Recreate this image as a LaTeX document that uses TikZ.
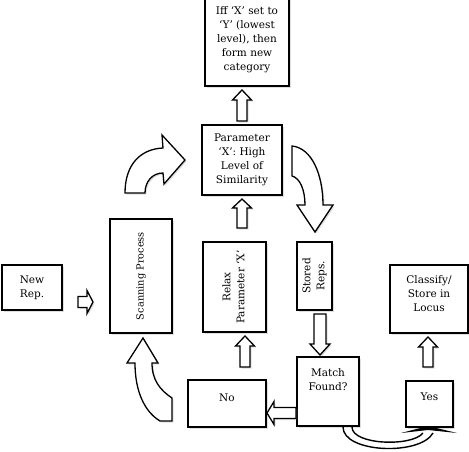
\documentclass[tikz,border=0pt]{standalone}
\usepackage{graphicx}
\usepackage{fontspec}
\setmainfont{DejaVu Serif}
\usetikzlibrary{calc,shadows}
\tikzset{
  box/.style={draw, line width=2pt, fill=white, inner sep=2pt, align=center,
    font=\fontsize{10.5}{14}\selectfont,
    drop shadow={opacity=0.25, shadow xshift=1.5pt, shadow yshift=-1.5pt}},
  txt/.style={align=center, inner sep=0pt, font=\fontsize{10.5}{14}\selectfont},
  blk/.style={draw, line width=1.3pt, fill=white, line join=miter,
    drop shadow={opacity=0.25, shadow xshift=1.5pt, shadow yshift=-1.5pt}},
}
\newcommand{\barrow}[5]{%
  \path #1 coordinate (bS) #2 coordinate (bE);
  \path ($(bE)!#5!(bS)$) coordinate (bH);
  \draw[blk] ($(bS)!#3!90:(bE)$) -- ($(bH)!#3!-90:(bS)$) -- ($(bH)!#4!-90:(bS)$) -- (bE)
    -- ($(bH)!#4!90:(bS)$) -- ($(bH)!#3!90:(bS)$) -- ($(bS)!#3!-90:(bE)$) -- cycle;}
\begin{document}
\begin{tikzpicture}[x=1pt,y=-1pt]
\useasboundingbox (0,0) rectangle (469,451);

% boxes
\node[box, minimum width=84pt, minimum height=92pt] (iff) at (247,40)
  {Iff ‘X’ set to\\‘Y’ (lowest\\level), then\\form new\\category};
\node[box, minimum width=80pt, minimum height=70pt] (param) at (242,160)
  {Parameter\\‘X’: High\\Level of\\Similarity};
\node[box, minimum width=62pt, minimum height=114pt] (scan) at (141,276)
  {\rotatebox{90}{\fontsize{9.8}{14}\selectfont Scanning Process}};
\node[box, minimum width=60pt, minimum height=45pt] (newrep) at (32,287.5)
  {New\\Rep.};
\node[box, minimum width=63pt, minimum height=90pt] (relax) at (234.5,287)
  {\rotatebox{90}{\begin{tabular}{@{}c@{}}Relax\\Parameter ‘X’\end{tabular}}};
\node[box, minimum width=35pt, minimum height=68pt] (stored) at (314.5,276)
  {\rotatebox{90}{\begin{tabular}{@{}c@{}}Stored\\Reps.\end{tabular}}};
\node[box, minimum width=78pt, minimum height=47pt] (no) at (227,403.5) {};
\node[txt] (notxt) at ([yshift=6pt]no.center) {No};
\node[box, minimum width=62pt, minimum height=69pt] (match) at (328,391.5) {};
\node[txt] (matchtxt) at ([yshift=12pt]match.center) {Match\\Found?};
\node[box, minimum width=47pt, minimum height=46pt] (yes) at (429.5,404) {};
\node[txt] (yestxt) at ([yshift=7pt]yes.center) {Yes};
\node[box, minimum width=78pt, minimum height=68pt] (classify) at (429,299) {};
\node[txt] (classtxt) at ([yshift=5pt]classify.center) {Classify/\\Store in\\Locus};

% straight block arrows
\barrow{([yshift=3pt]param.north)}{([yshift=-3pt]param.north |- iff.south)}{5pt}{9.5pt}{10pt}
\barrow{([yshift=13pt]param.south |- relax.north)}{([yshift=-3pt]param.south)}{5pt}{9.5pt}{9pt}
\barrow{([xshift=18pt,yshift=12pt]no.north)}{([xshift=10.5pt,yshift=-3pt]relax.south)}{5pt}{9.5pt}{10pt}
\barrow{([xshift=5.5pt,yshift=-3pt]stored.south)}{([xshift=-8pt,yshift=1pt]match.north)}{6pt}{10pt}{11pt}
\barrow{([yshift=-21.5pt]match.west)}{([yshift=-9.5pt]no.east)}{5.5pt}{11.5pt}{7pt}
\barrow{([xshift=15pt,yshift=-14.5pt]newrep.east)}{([xshift=-16pt,yshift=-26pt]scan.west)}{5.5pt}{11.5pt}{6pt}
\barrow{([xshift=-1.5pt,yshift=13pt]yes.north)}{([xshift=-1pt,yshift=-3pt]classify.south)}{5pt}{9.5pt}{10pt}

% curved block arrows
\draw[blk] (125,193) .. controls (125,165) and (140,149) .. (163,148) -- (162,135) -- (185,160)
  -- (164,184) -- (163,173) .. controls (152,173) and (145,182) .. (145,193) -- cycle;
\draw[blk] (292,146) .. controls (312,148) and (323,175) .. (323,205) -- (333,205) -- (315,232)
  -- (297,205) -- (305,205) .. controls (305,190) and (300,178) .. (292,176) -- cycle;
\draw[blk] (172,421) -- (172,398) .. controls (160,390) and (152,380) .. (152,363) -- (158,363)
  -- (143,338) -- (127,363) -- (135,363) .. controls (135,392) and (145,412) .. (160,421) -- cycle;

% U-shaped arrow Match -> Yes
\draw[line width=1.4pt] (343,427) .. controls (343,453) and (420,456) .. (433,433);
\draw[line width=1.4pt] (352,427) .. controls (352,445) and (412,447) .. (423,433);
\fill[black] (401,433) -- (428,426) -- (457,433) -- (428,430) -- cycle;
\end{tikzpicture}
\end{document}
